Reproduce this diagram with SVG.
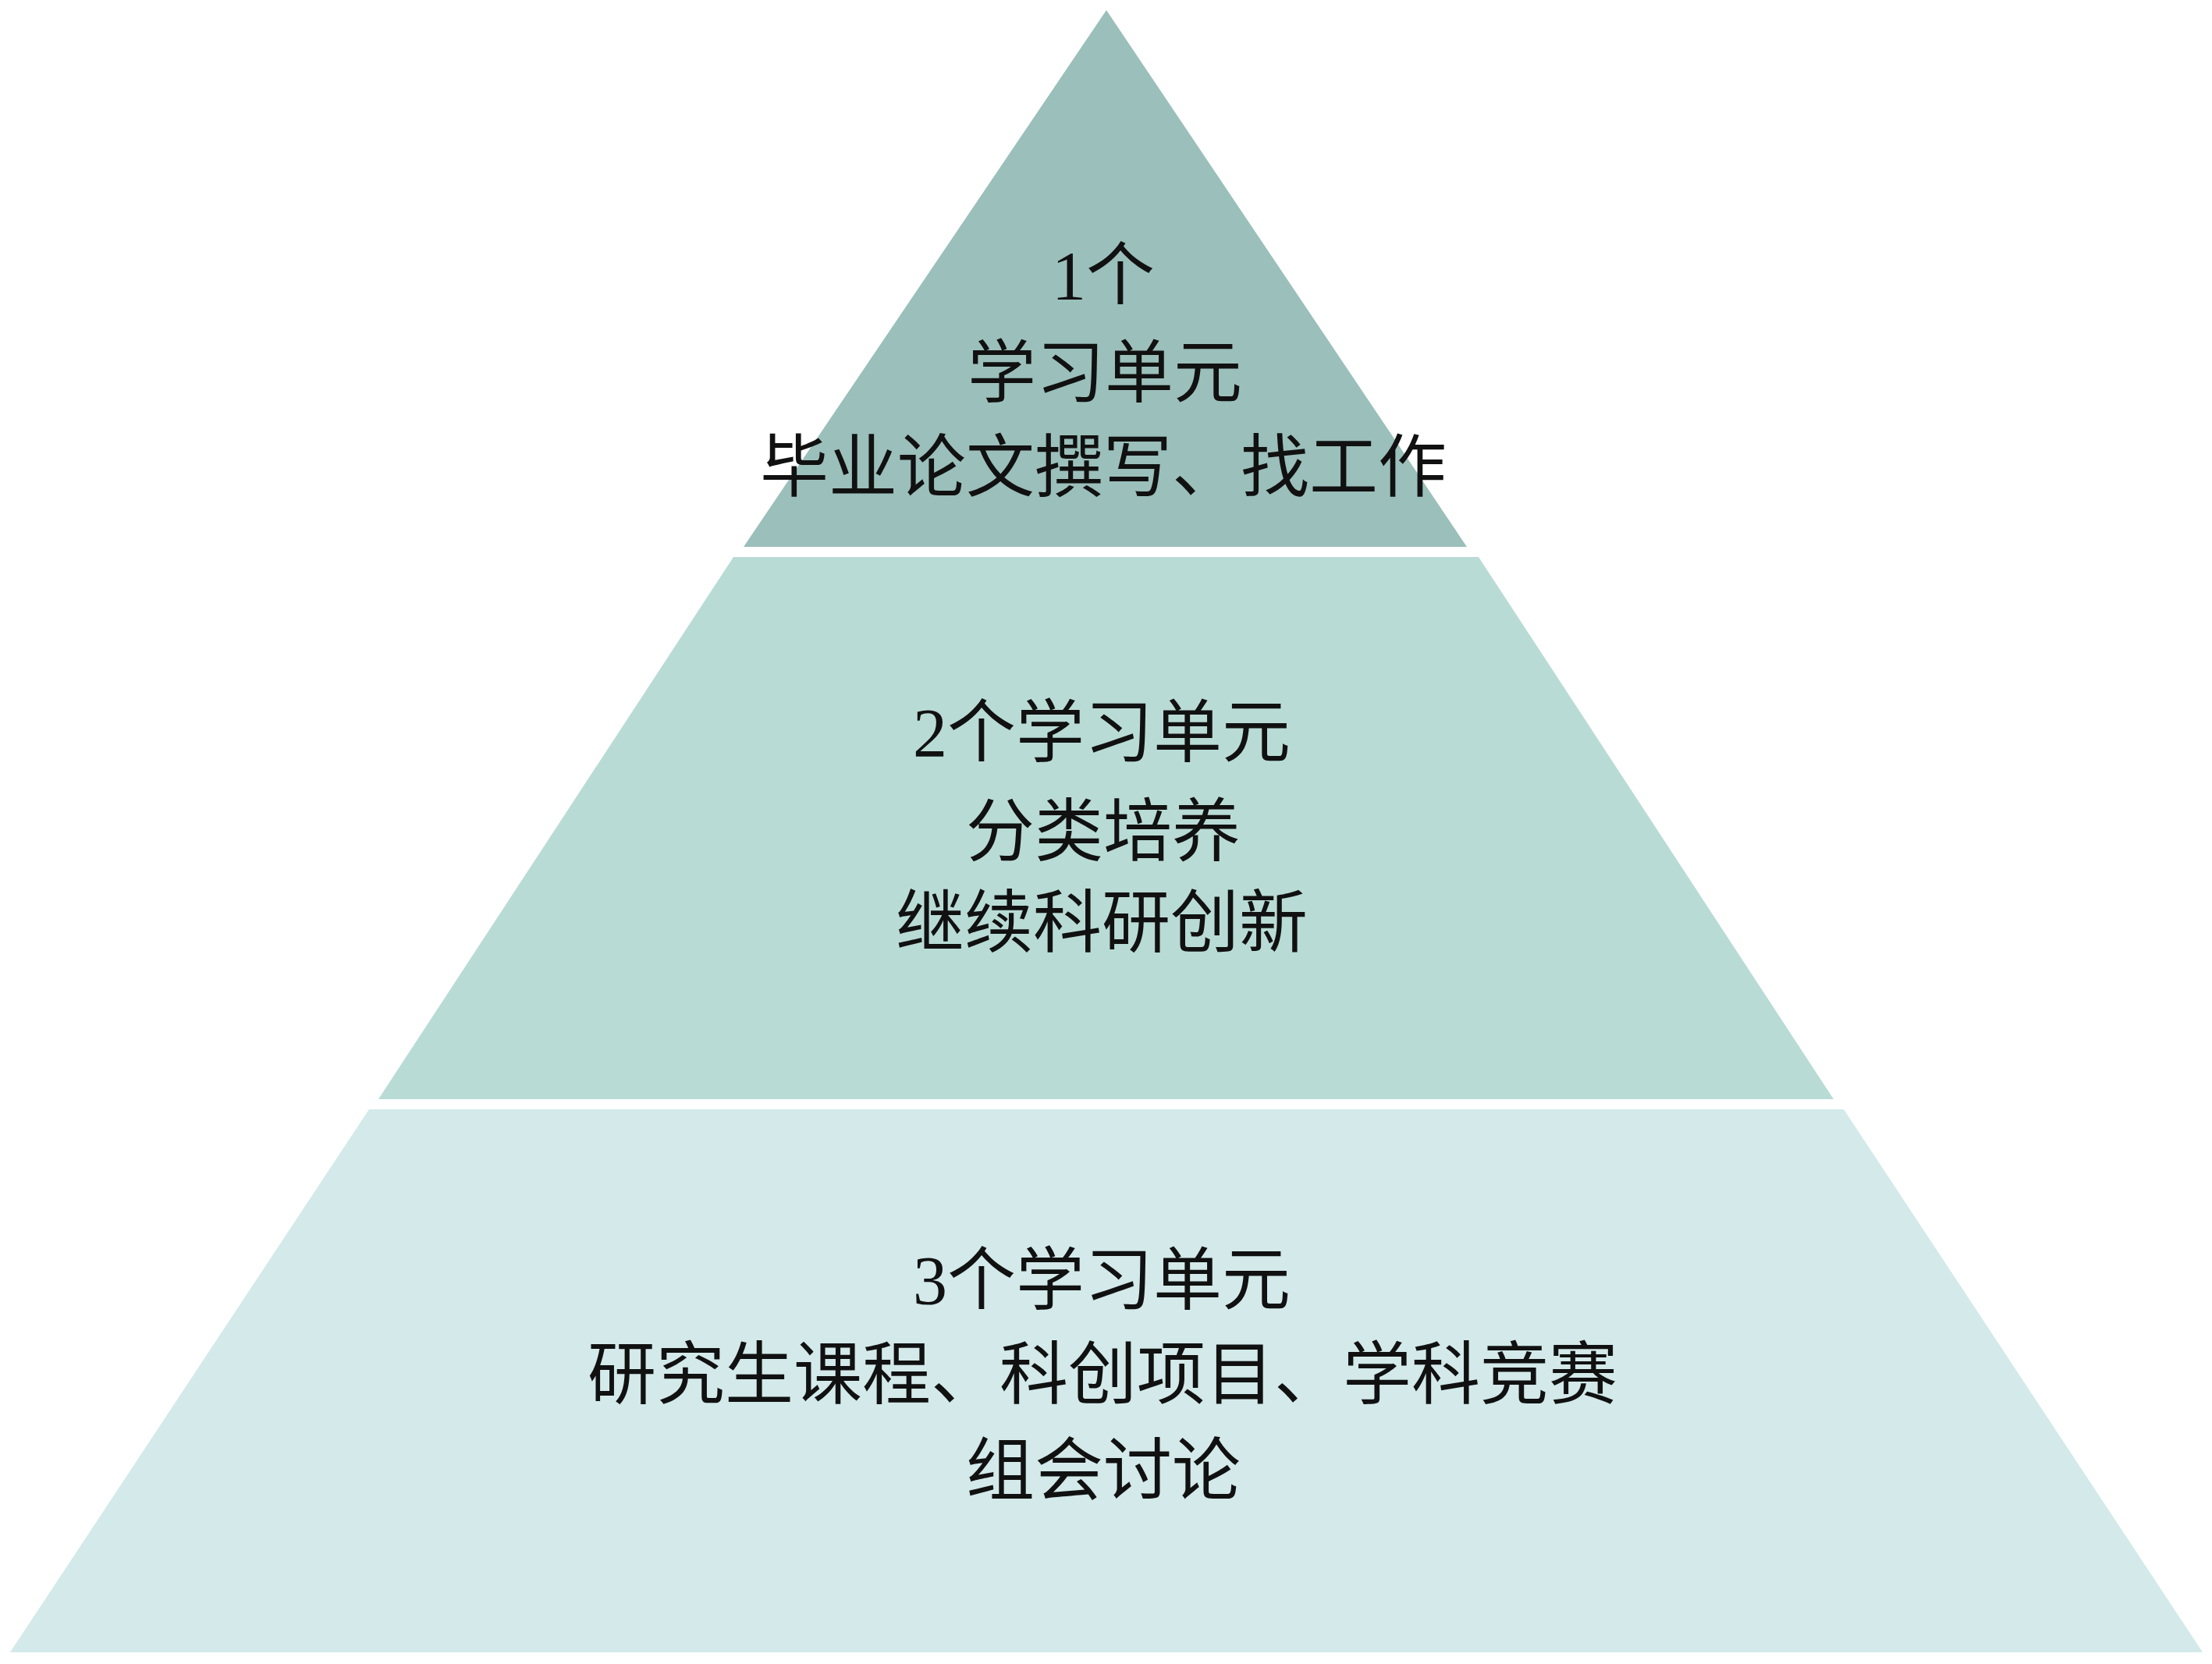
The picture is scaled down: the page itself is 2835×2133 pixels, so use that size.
<svg xmlns="http://www.w3.org/2000/svg" width="2835" height="2133" viewBox="0 0 2835 2133">
<style>
.t{font-family:"Liberation Serif","Noto Sans CJK SC",serif;font-size:88px;fill:#111;text-anchor:middle}
</style>
<rect x="0" y="0" width="2835" height="2133" fill="#ffffff"/>
<g id="layer1">
<polygon points="1418,13 1880,701 953,701" fill="#9bbfba"/>
<text class="t" x="1414" y="383">1个</text>
<text class="t" x="1416" y="508">学习单元</text>
<text class="t" x="1414" y="629">毕业论文撰写、找工作</text>
</g>
<g id="layer2">
<polygon points="940,714 1895,714 2350,1409 485,1409" fill="#b9dbd5"/>
<text class="t" x="1412" y="969">2个学习单元</text>
<text class="t" x="1414" y="1096">分类培养</text>
<text class="t" x="1412" y="1213">继续科研创新</text>
</g>
<g id="layer3">
<polygon points="473,1422 2363,1422 2823,2118 13,2118" fill="#d3e9ea"/>
<text class="t" x="1412" y="1671">3个学习单元</text>
<text class="t" x="1413" y="1792">研究生课程、科创项目、学科竞赛</text>
<text class="t" x="1414" y="1915">组会讨论</text>
</g>
<g id="connectors"/>
</svg>
